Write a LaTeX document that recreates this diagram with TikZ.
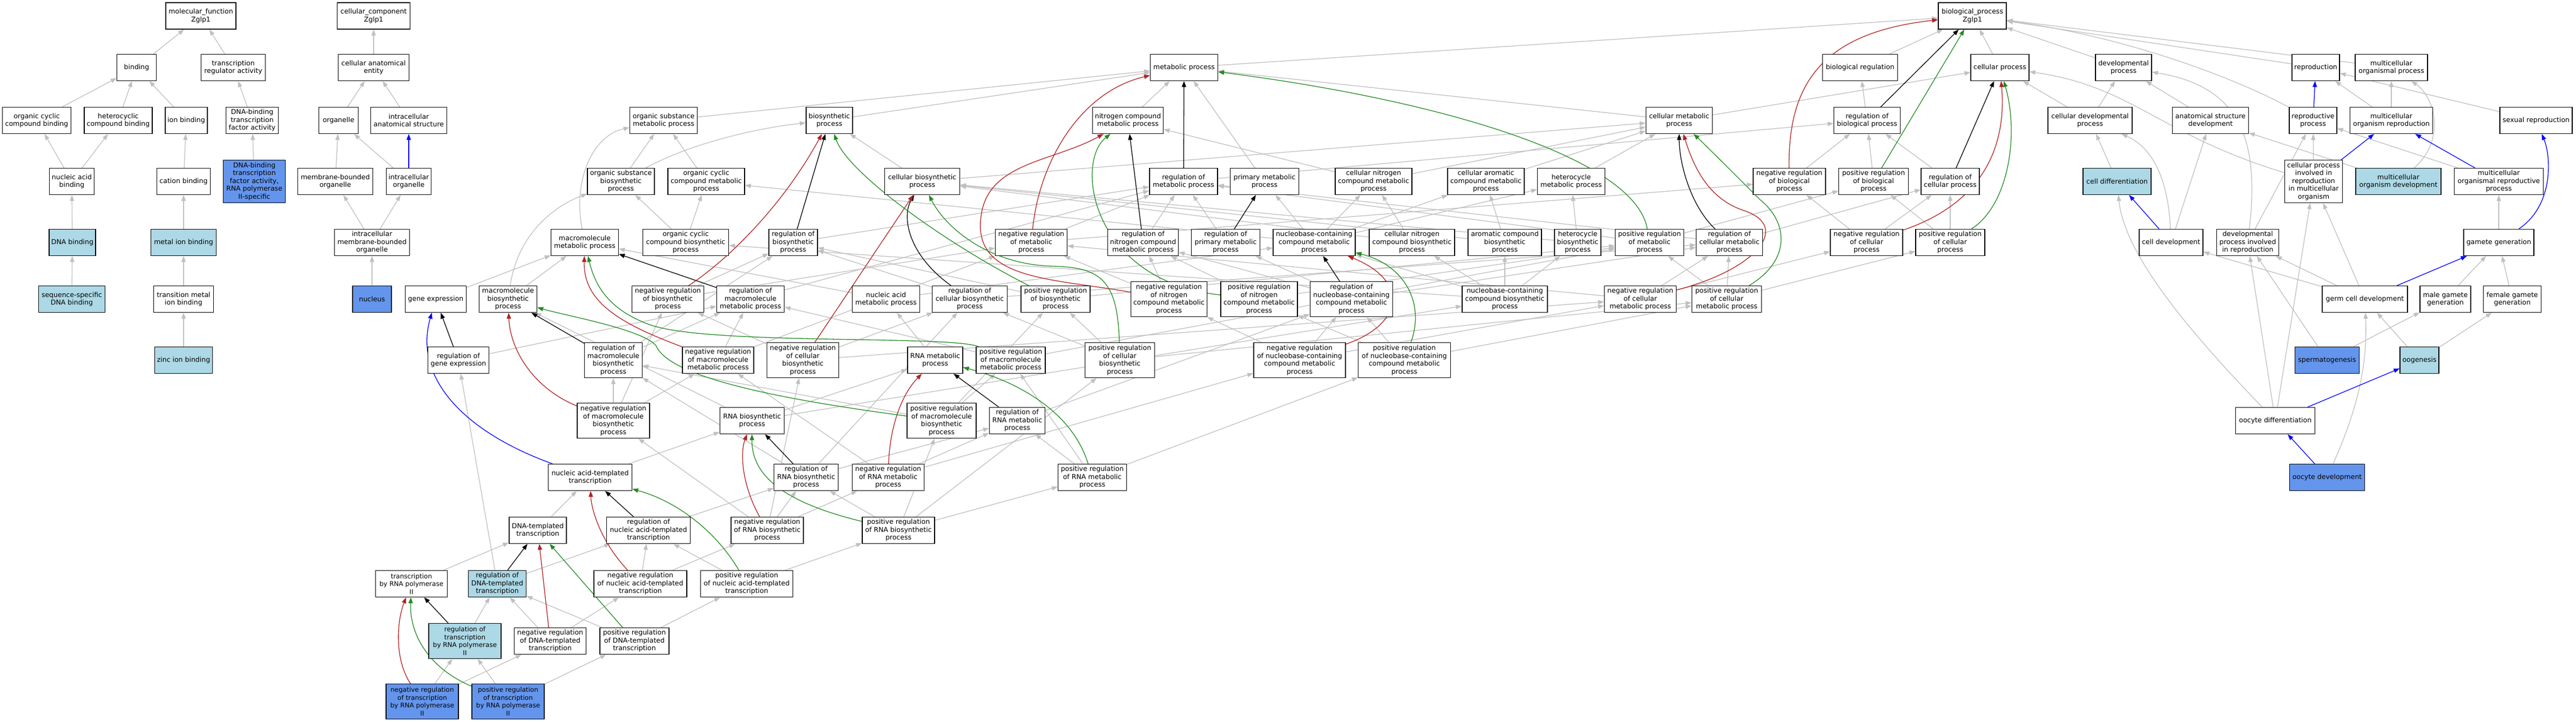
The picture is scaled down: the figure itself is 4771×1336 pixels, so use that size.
\documentclass[tikz,border=0pt]{standalone}
\usepackage{fontspec}
\setmainfont{DejaVu Sans}
\usetikzlibrary{arrows.meta}
\definecolor{lb}{HTML}{ADD8E6}
\definecolor{cb}{HTML}{6495ED}
\definecolor{eg}{HTML}{C0C0C0}
\definecolor{er}{HTML}{B22222}
\definecolor{egr}{HTML}{228B22}
\pgfdeclarelayer{bg}
\pgfsetlayers{bg,main}
\begin{document}
\begin{tikzpicture}[x=1pt,y=-1pt,
 box/.style={draw=black, line width=1.2pt, fill=white, rectangle, inner xsep=1pt, inner ysep=1pt, minimum height=49pt, align=center, font=\fontsize{12.5}{14.5}\selectfont},
 lbox/.style={box, fill=lb},
 cbox/.style={box, fill=cb},
 sm/.style={font=\fontsize{12}{14.5}\selectfont},
 ar/.style={line width=1.3pt, -{Triangle[length=11pt,width=8pt]}},
 isa/.style={ar, draw=eg},
 regk/.style={ar, draw=black},
 negr/.style={ar, draw=er},
 posg/.style={ar, draw=egr},
 partb/.style={ar, draw=blue}]
\useasboundingbox (0,0) rectangle (4771,1336);
% ---------- molecular function / cellular component ----------
\node[box,minimum width=130pt] (MFr) at (372,29.5) {molecular\_function\\Zglp1};
\node[box,minimum width=135pt] (CCr) at (692,29.5) {cellular\_component\\Zglp1};
\node[box,minimum width=73pt] (BIND) at (253,125) {binding};
\node[box,minimum width=119pt] (TRA) at (432,125) {transcription\\regulator activity};
\node[box,minimum width=131pt] (CAE) at (692,125) {cellular anatomical\\entity};
\node[box,minimum width=127pt] (OCCB) at (68,223) {organic cyclic\\compound binding};
\node[box,minimum width=126pt] (HCB) at (219,223) {heterocyclic\\compound binding};
\node[box,minimum width=78pt] (IB) at (345,223) {ion binding};
\node[box,minimum width=97pt] (DBTF) at (467,223) {DNA-binding\\transcription\\factor activity};
\node[box,minimum width=73pt] (ORG) at (627,223) {organelle};
\node[box,minimum width=141pt] (IAS) at (757,223) {intracellular\\anatomical structure};
\node[box,minimum width=83pt] (NAB) at (133,336) {nucleic acid\\binding};
\node[box,minimum width=99pt] (CATB) at (340,336) {cation binding};
\node[cbox,minimum width=115pt,minimum height=79pt] (DBTF2) at (471,336) {DNA-binding\\transcription\\factor activity,\\RNA polymerase\\II-specific};
\node[box,minimum width=139pt] (MBO) at (621,336) {membrane-bounded\\organelle};
\node[box,minimum width=83pt] (IO) at (757,336) {intracellular\\organelle};
\node[lbox,minimum width=86pt] (DNAB) at (134,449) {DNA binding};
\node[lbox,minimum width=121pt] (MIB) at (340,449) {metal ion binding};
\node[box,minimum width=139pt] (IMBO) at (689,449) {intracellular\\membrane-bounded\\organelle};
\node[lbox,minimum width=123pt] (SSDB) at (133,554) {sequence-specific\\DNA binding};
\node[box,minimum width=111pt] (TMIB) at (340,554) {transition metal\\ion binding};
\node[cbox,minimum width=72pt] (NUC) at (689,554) {nucleus};
\node[lbox,minimum width=107pt] (ZIB) at (340,667) {zinc ion binding};
% ---------- biological process ----------
\node[box,minimum width=126pt] (BP) at (3653,29.5) {biological\_process\\Zglp1};
\node[box,minimum width=125pt] (MP) at (2193,125) {metabolic process};
\node[box,minimum width=139pt] (BR) at (3445,125) {biological regulation};
\node[box,minimum width=108pt] (CP) at (3704,125) {cellular process};
\node[box,minimum width=104pt] (DP) at (3933,125) {developmental\\process};
\node[box,minimum width=88pt] (REP) at (4289,125) {reproduction};
\node[box,minimum width=134pt] (MOP) at (4429,125) {multicellular\\organismal process};
\node[box,minimum width=125pt] (OSMP) at (1229,223) {organic substance\\metabolic process};
\node[box,minimum width=86pt] (BIOS) at (1536,223) {biosynthetic\\process};
\node[box,minimum width=131pt] (NCMP) at (2089,223) {nitrogen compound\\metabolic process};
\node[box,minimum width=123pt] (CMP) at (3110,223) {cellular metabolic\\process};
\node[box,minimum width=123pt] (RBP) at (3458,223) {regulation of\\biological process};
\node[box,minimum width=156pt] (CDP) at (3871,223) {cellular developmental\\process};
\node[box,minimum width=141pt] (ASD) at (4094,223) {anatomical structure\\development};
\node[box,minimum width=88pt] (REPP) at (4284,223) {reproductive\\process};
\node[box,minimum width=153pt] (MOR) at (4429,223) {multicellular\\organism reproduction};
\node[box,minimum width=134pt] (SR) at (4697,223) {sexual reproduction};
\node[box,minimum width=124pt] (OSBP) at (1150,336) {organic substance\\biosynthetic\\process};
\node[box,minimum width=142pt] (OCCMP) at (1308,336) {organic cyclic\\compound metabolic\\process};
\node[box,minimum width=139pt] (CBP) at (1708,336) {cellular biosynthetic\\process};
\node[box,minimum width=126pt] (RMP) at (2192,336) {regulation of\\metabolic process};
\node[box,minimum width=127pt] (PMP) at (2342,336) {primary metabolic\\process};
\node[box,minimum width=142pt] (CNCMP) at (2544,336) {cellular nitrogen\\compound metabolic\\process};
\node[box,minimum width=142pt] (CACMP) at (2752,336) {cellular aromatic\\compound metabolic\\process};
\node[box,minimum width=125pt] (HMP) at (2910,336) {heterocycle\\metabolic process};
\node[box,minimum width=134pt] (NRBP) at (3314,336) {negative regulation\\of biological\\process};
\node[box,minimum width=129pt] (PRBP) at (3470,336) {positive regulation\\of biological\\process};
\node[box,minimum width=108pt] (RCP) at (3612,336) {regulation of\\cellular process};
\node[lbox,minimum width=126pt] (CD) at (3921,336) {cell differentiation};
\node[box,minimum width=107pt,minimum height=79pt] (CPIR) at (4285,336) {cellular process\\involved in\\reproduction\\in multicellular\\organism};
\node[lbox,minimum width=158pt] (MOD) at (4442,336) {multicellular\\organism development};
\node[box,minimum width=165pt] (MORP) at (4628,336) {multicellular\\organismal reproductive\\process};
\node[box,minimum width=125pt] (MMP) at (1083,449) {macromolecule\\metabolic process};
\node[box,minimum width=159pt] (OCCBP) at (1270,449) {organic cyclic\\compound biosynthetic\\process};
\node[box,minimum width=90pt] (RBIOS) at (1469,449) {regulation of\\biosynthetic\\process};
\node[box,minimum width=133pt] (NRMP) at (1910,449) {negative regulation\\of metabolic\\process};
\node[box,minimum width=131pt] (RNCMP) at (2117,449) {regulation of\\nitrogen compound\\metabolic process};
\node[box,minimum width=127pt] (RPMP) at (2270,449) {regulation of\\primary metabolic\\process};
\node[box,minimum width=152pt] (NBCMP) at (2434,449) {nucleobase-containing\\compound metabolic\\process};
\node[box,minimum width=158pt] (CNCBP) at (2615,449) {cellular nitrogen\\compound biosynthetic\\process};
\node[box,minimum width=136pt] (ACBP) at (2787,449) {aromatic compound\\biosynthetic\\process};
\node[box,minimum width=86pt] (HBP) at (2922,449) {heterocycle\\biosynthetic\\process};
\node[box,minimum width=127pt] (PRMP) at (3055,449) {positive regulation\\of metabolic\\process};
\node[box,minimum width=123pt] (RCMP) at (3203,449) {regulation of\\cellular metabolic\\process};
\node[box,minimum width=134pt] (NRCP) at (3457,449) {negative regulation\\of cellular\\process};
\node[box,minimum width=128pt] (PRCP) at (3612,449) {positive regulation\\of cellular\\process};
\node[box,minimum width=118pt] (CDEV) at (4021,449) {cell development};
\node[box,minimum width=115pt] (DPIR) at (4163,449) {developmental\\process involved\\in reproduction};
\node[box,minimum width=130pt] (GG) at (4628,449) {gamete generation};
\node[box,minimum width=113pt] (GE) at (807,554) {gene expression};
\node[box,minimum width=107pt] (MBP) at (941,554) {macromolecule\\biosynthetic\\process};
\node[box,minimum width=133pt] (NRBIOS) at (1237,554) {negative regulation\\of biosynthetic\\process};
\node[box,minimum width=125pt] (RMMP) at (1390,554) {regulation of\\macromolecule\\metabolic process};
\node[box,minimum width=125pt] (NAMP) at (1641,554) {nucleic acid\\metabolic process};
\node[box,minimum width=139pt] (RCBP) at (1796,554) {regulation of\\cellular biosynthetic\\process};
\node[box,minimum width=128pt] (PRBIOS) at (1955,554) {positive regulation\\of biosynthetic\\process};
\node[box,minimum width=141pt,minimum height=65pt] (NRNCMP) at (2165,554) {negative regulation\\of nitrogen\\compound metabolic\\process};
\node[box,minimum width=142pt,minimum height=65pt] (PRNCMP) at (2332,554) {positive regulation\\of nitrogen\\compound metabolic\\process};
\node[box,minimum width=153pt,minimum height=65pt] (RNBCMP) at (2503,554) {regulation of\\nucleobase-containing\\compound metabolic\\process};
\node[box,minimum width=158pt] (NBCBP) at (2787,554) {nucleobase-containing\\compound biosynthetic\\process};
\node[box,minimum width=133pt] (NRCMP) at (3038,554) {negative regulation\\of cellular\\metabolic process};
\node[box,minimum width=129pt] (PRCMP) at (3198,554) {positive regulation\\of cellular\\metabolic process};
\node[box,minimum width=158pt] (GCD) at (4380,554) {germ cell development};
\node[box,minimum width=94pt] (MGG) at (4529,554) {male gamete\\generation};
\node[box,minimum width=107pt] (FGG) at (4653,554) {female gamete\\generation};
\node[box,minimum width=113pt] (RGE) at (849,667) {regulation of\\gene expression};
\node[box,minimum width=107pt,minimum height=65pt] (RMBP) at (1136,667) {regulation of\\macromolecule\\biosynthetic\\process};
\node[box,minimum width=132pt] (NRMMP) at (1330,667) {negative regulation\\of macromolecule\\metabolic process};
\node[box,minimum width=133pt,minimum height=65pt] (NRCBP) at (1487,667) {negative regulation\\of cellular\\biosynthetic\\process};
\node[box,minimum width=102pt] (RNAMP) at (1732,667) {RNA metabolic\\process};
\node[box,minimum width=128pt] (PRMMP) at (1872,667) {positive regulation\\of macromolecule\\metabolic process};
\node[box,minimum width=129pt,minimum height=65pt] (PRCBP) at (2074,667) {positive regulation\\of cellular\\biosynthetic\\process};
\node[box,minimum width=170pt,minimum height=65pt] (NRNBCMP) at (2407,667) {negative regulation\\of nucleobase-containing\\compound metabolic\\process};
\node[box,minimum width=171pt,minimum height=65pt] (PRNBCMP) at (2601,667) {positive regulation\\of nucleobase-containing\\compound metabolic\\process};
\node[cbox,minimum width=119pt] (SPG) at (4310,667) {spermatogenesis};
\node[lbox,minimum width=72pt] (OOG) at (4481,667) {oogenesis};
\node[box,minimum width=134pt,minimum height=65pt] (NRMBP) at (1136,779) {negative regulation\\of macromolecule\\biosynthetic\\process};
\node[box,minimum width=119pt] (RNABP) at (1393,779) {RNA biosynthetic\\process};
\node[box,minimum width=128pt,minimum height=65pt] (PRMBP) at (1744,779) {positive regulation\\of macromolecule\\biosynthetic\\process};
\node[box,minimum width=103pt] (RRNAMP) at (1884,779) {regulation of\\RNA metabolic\\process};
\node[box,minimum width=147pt] (OD) at (4214,779) {oocyte differentiation};
\node[box,minimum width=155pt] (NATT) at (1093,884) {nucleic acid-templated\\transcription};
\node[box,minimum width=119pt] (RRNABP) at (1493,884) {regulation of\\RNA biosynthetic\\process};
\node[box,minimum width=133pt] (NRRNAMP) at (1645,884) {negative regulation\\of RNA metabolic\\process};
\node[box,minimum width=127pt] (PRRNAMP) at (2023,884) {positive regulation\\of RNA metabolic\\process};
\node[cbox,minimum width=139pt] (ODEV) at (4310,884) {oocyte development};
\node[box,minimum width=106pt] (DTT) at (996,982) {DNA-templated\\transcription};
\node[box,minimum width=155pt] (RNATT) at (1201,982) {regulation of\\nucleic acid-templated\\transcription};
\node[box,minimum width=134pt] (NRRNABP) at (1421,982) {negative regulation\\of RNA biosynthetic\\process};
\node[box,minimum width=134pt] (PRRNABP) at (1664,982) {positive regulation\\of RNA biosynthetic\\process};
\node[box,sm,minimum width=133pt] (TRNAP2) at (762,1081) {transcription\\by RNA polymerase\\II};
\node[lbox,minimum width=107pt] (RDTT) at (921,1081) {regulation of\\DNA-templated\\transcription};
\node[box,minimum width=172pt] (NRNATT) at (1186,1081) {negative regulation\\of nucleic acid-templated\\transcription};
\node[box,minimum width=171pt] (PRNATT) at (1383,1081) {positive regulation\\of nucleic acid-templated\\transcription};
\node[lbox,sm,minimum width=134pt,minimum height=65pt] (RTRNAP2) at (861,1187) {regulation of\\transcription\\by RNA polymerase\\II};
\node[box,minimum width=133pt] (NRDTT) at (1019,1187) {negative regulation\\of DNA-templated\\transcription};
\node[box,minimum width=128pt] (PRDTT) at (1175,1187) {positive regulation\\of DNA-templated\\transcription};
\node[cbox,sm,minimum width=134pt,minimum height=65pt] (NRTRNAP2) at (782,1299) {negative regulation\\of transcription\\by RNA polymerase\\II};
\node[cbox,sm,minimum width=134pt,minimum height=65pt] (PRTRNAP2) at (941,1299) {positive regulation\\of transcription\\by RNA polymerase\\II};
% ---------- edges ----------
\begin{pgfonlayer}{bg}
\fill[white] (0,0) rectangle (4771,1336);
\foreach \a/\b in {BIND/MFr, TRA/MFr, OCCB/BIND, HCB/BIND, IB/BIND, DBTF/TRA, NAB/OCCB, NAB/HCB, CATB/IB, DBTF2/DBTF, DNAB/NAB, MIB/CATB, SSDB/DNAB, TMIB/MIB, ZIB/TMIB, CAE/CCr, ORG/CAE, IAS/CAE, MBO/ORG, IO/ORG, IMBO/MBO, IMBO/IO, NUC/IMBO,
MP/BP, BR/BP, CP/BP, DP/BP, REP/BP, MOP/BP, RBP/BR, NRBP/RBP, PRBP/RBP,
OSMP/MP, BIOS/MP, NCMP/MP, CMP/MP, CMP/CP, PMP/MP, CDP/CP, CDP/DP, ASD/DP, MOR/REP, MOR/MOP, SR/REP,
OSBP/OSMP, OCCMP/OSMP, CBP/BIOS, CBP/CMP, RMP/RBP, CNCMP/NCMP, CNCMP/CMP, CACMP/CMP, HMP/CMP, RCP/RBP,
CD/CDP, CPIR/REPP, MOD/ASD, MORP/REPP,
OCCBP/OCCMP, OCCBP/OSBP, RBIOS/RMP, NRMP/RMP, NRMP/NRBP, RNCMP/RMP, RPMP/RMP, NBCMP/CNCMP, NBCMP/CACMP, NBCMP/HMP, NBCMP/OCCMP, NBCMP/PMP, CNCBP/CNCMP, CNCBP/CBP, ACBP/CACMP, ACBP/CBP, HBP/HMP, HBP/CBP, PRMP/RMP, PRMP/PRBP, RCMP/RMP, RCMP/RCP, NRCP/RCP, NRCP/NRBP, PRCP/RCP, PRCP/PRBP,
CDEV/ASD, DPIR/REPP, GG/MORP,
GE/MMP, MBP/MMP, NRBIOS/RBIOS, NRBIOS/NRMP, RMMP/RMP, NAMP/NBCMP, NAMP/MMP, RCBP/RBIOS, RCBP/RCMP, PRBIOS/RBIOS, PRBIOS/PRMP, NRNCMP/RNCMP, NRNCMP/NRMP, PRNCMP/RNCMP, PRNCMP/PRMP, RNBCMP/RPMP, RNBCMP/RNCMP, RNBCMP/RCMP, NBCBP/CNCBP, NBCBP/ACBP, NBCBP/HBP, NBCBP/NBCMP, NBCBP/OCCBP, NRCMP/NRMP, NRCMP/RCMP, NRCMP/NRCP, PRCMP/PRMP, PRCMP/RCMP, PRCMP/PRCP, GCD/CDEV, GCD/DPIR, GCD/CPIR, MGG/GG, FGG/GG,
RGE/RMMP, RMBP/RMMP, RMBP/RBIOS, NRMMP/RMMP, NRMMP/NRMP, NRCBP/RCBP, NRCBP/NRBIOS, NRCBP/NRCMP, RNAMP/NAMP, PRMMP/RMMP, PRMMP/PRMP, PRCBP/RCBP, PRCBP/PRBIOS, PRCBP/PRCMP, NRNBCMP/RNBCMP, NRNBCMP/NRNCMP, NRNBCMP/NRCMP, PRNBCMP/RNBCMP, PRNBCMP/PRNCMP, PRNBCMP/PRCMP, SPG/DPIR, SPG/MGG, OOG/FGG, OOG/GCD,
NRMBP/RMBP, NRMBP/NRMMP, NRMBP/NRBIOS, RNABP/MBP, RNABP/RNAMP, RNABP/NBCBP, PRMBP/RMBP, PRMBP/PRMMP, PRMBP/PRBIOS, RRNAMP/RNBCMP, OD/DPIR, OD/CPIR,
NATT/RNABP, RRNABP/RRNAMP, RRNABP/RCBP, RRNABP/RMBP, NRRNAMP/RRNAMP, NRRNAMP/NRNBCMP, NRRNAMP/NRMMP, PRRNAMP/RRNAMP, PRRNAMP/PRNBCMP, PRRNAMP/PRMMP,
DTT/NATT, RNATT/RRNABP, NRRNABP/RRNABP, NRRNABP/NRRNAMP, NRRNABP/NRMBP, NRRNABP/NRCBP, PRRNABP/RRNABP, PRRNABP/PRRNAMP, PRRNABP/PRMBP, PRRNABP/PRCBP,
TRNAP2/DTT, RDTT/RGE, RDTT/RNATT, NRNATT/RNATT, NRNATT/NRRNABP, PRNATT/RNATT, PRNATT/PRRNABP,
RTRNAP2/RDTT, NRDTT/RDTT, NRDTT/NRNATT, PRDTT/RDTT, PRDTT/PRNATT,
NRTRNAP2/RTRNAP2, NRTRNAP2/NRDTT, PRTRNAP2/RTRNAP2, PRTRNAP2/PRDTT}
  \draw[isa] (\a) -- (\b);
% gray curves
\draw[isa] (REPP) .. controls (4150,150) and (3950,70) .. (BP);
\draw[isa] (CPIR) .. controls (4000,250) and (3950,160) .. (CP);
\draw[isa] (DPIR) .. controls (4185,260) and (4150,160) .. (DP);
\draw[isa] (CDEV) .. controls (4015,320) and (3980,270) .. (CDP);
\draw[isa] (MOD) .. controls (4530,260) and (4510,180) .. (MOP);
\draw[isa] (OD) .. controls (4080,640) and (3935,480) .. (CD);
\draw[isa] (ODEV) .. controls (4365,760) and (4385,680) .. (GCD);
\draw[isa] (MMP) .. controls (1060,330) and (1100,250) .. (OSMP);
\draw[isa] (MBP) .. controls (960,430) and (1030,380) .. (OSBP);
\draw[isa] (OSBP) .. controls (1290,260) and (1420,235) .. (BIOS);
% regulates (black)
\foreach \a/\b in {RBP/BP, RCP/CP, RMP/MP, RNCMP/NCMP, RPMP/PMP, RBIOS/BIOS, RMMP/MMP, RMBP/MBP, RNBCMP/NBCMP, RGE/GE, RRNAMP/RNAMP, RRNABP/RNABP, RNATT/NATT, RDTT/DTT, RTRNAP2/TRNAP2}
  \draw[regk] (\a) -- (\b);
\draw[regk] (RCMP) .. controls (3130,380) and (3110,300) .. (CMP);
\draw[regk] (RCBP) .. controls (1680,470) and (1670,400) .. (CBP);
% negatively regulates (red)
\draw[negr] (NRCBP) -- (CBP);
\draw[negr] (NRDTT) -- (DTT);
\draw[negr] (NRBP) .. controls (3311,150) and (3380,60) .. (BP);
\draw[negr] (NRCP) .. controls (3690,370) and (3715,250) .. (CP);
\draw[negr] (NRMP) .. controls (1925,300) and (2000,170) .. (MP);
\draw[negr] (NRNCMP) .. controls (1950,515) and (1800,520) .. (1817,400) .. controls (1830,300) and (1950,300) .. (NCMP);
\draw[negr] (NRBIOS) .. controls (1350,480) and (1450,380) .. (BIOS);
\draw[negr] (NRMMP) .. controls (1150,600) and (1080,560) .. (MMP);
\draw[negr] (NRMBP) .. controls (990,720) and (945,650) .. (MBP);
\draw[negr] (NRRNAMP) .. controls (1648,790) and (1670,730) .. (RNAMP);
\draw[negr] (NRRNABP) .. controls (1375,900) and (1370,840) .. (RNABP);
\draw[negr] (NRNATT) .. controls (1110,1000) and (1095,940) .. (NATT);
\draw[negr] (NRTRNAP2) .. controls (730,1220) and (735,1150) .. (TRNAP2);
\draw[negr] (NRCMP) .. controls (3250,500) and (3320,420) .. (3230,390) .. controls (3170,370) and (3140,320) .. (CMP);
\draw[negr] (NRNBCMP) .. controls (2600,600) and (2610,520) .. (NBCMP);
% positively regulates (green)
\draw[posg] (PRBP) -- (BP);
\draw[posg] (PRDTT) -- (DTT);
\draw[posg] (PRCP) .. controls (3720,380) and (3740,250) .. (CP);
\draw[posg] (PRMP) .. controls (3030,300) and (2700,190) .. (MP);
\draw[posg] (PRNCMP) .. controls (2020,520) and (1990,300) .. (NCMP);
\draw[posg] (PRBIOS) .. controls (1750,450) and (1570,320) .. (BIOS);
\draw[posg] (PRCBP) .. controls (2070,520) and (2040,495) .. (1950,493) .. controls (1830,490) and (1750,420) .. (CBP);
\draw[posg] (PRMMP) .. controls (1760,620) and (1300,640) .. (1200,600) .. controls (1120,570) and (1100,520) .. (MMP);
\draw[posg] (PRMBP) .. controls (1450,740) and (1240,700) .. (1215,640) .. controls (1190,610) and (1050,585) .. (MBP);
\draw[posg] (PRRNAMP) .. controls (1985,760) and (1880,705) .. (RNAMP);
\draw[posg] (PRRNABP) .. controls (1450,930) and (1392,880) .. (RNABP);
\draw[posg] (PRNATT) .. controls (1330,990) and (1260,930) .. (NATT);
\draw[posg] (PRTRNAP2) .. controls (800,1240) and (758,1180) .. (TRNAP2);
\draw[posg] (PRCMP) .. controls (3320,480) and (3310,410) .. (3260,370) .. controls (3210,320) and (3160,270) .. (CMP);
\draw[posg] (PRNBCMP) .. controls (2640,560) and (2600,490) .. (NBCMP);
% part of (blue)
\foreach \a/\b in {IO/IAS, REPP/REP, CPIR/MOR, MORP/MOR, CDEV/CD, GCD/GG, OD/OOG, ODEV/OD}
  \draw[partb] (\a) -- (\b);
\draw[partb] (GG) .. controls (4730,380) and (4725,290) .. (SR);
\draw[partb] (NATT) .. controls (860,800) and (765,700) .. (GE);
\end{pgfonlayer}
\end{tikzpicture}
\end{document}
